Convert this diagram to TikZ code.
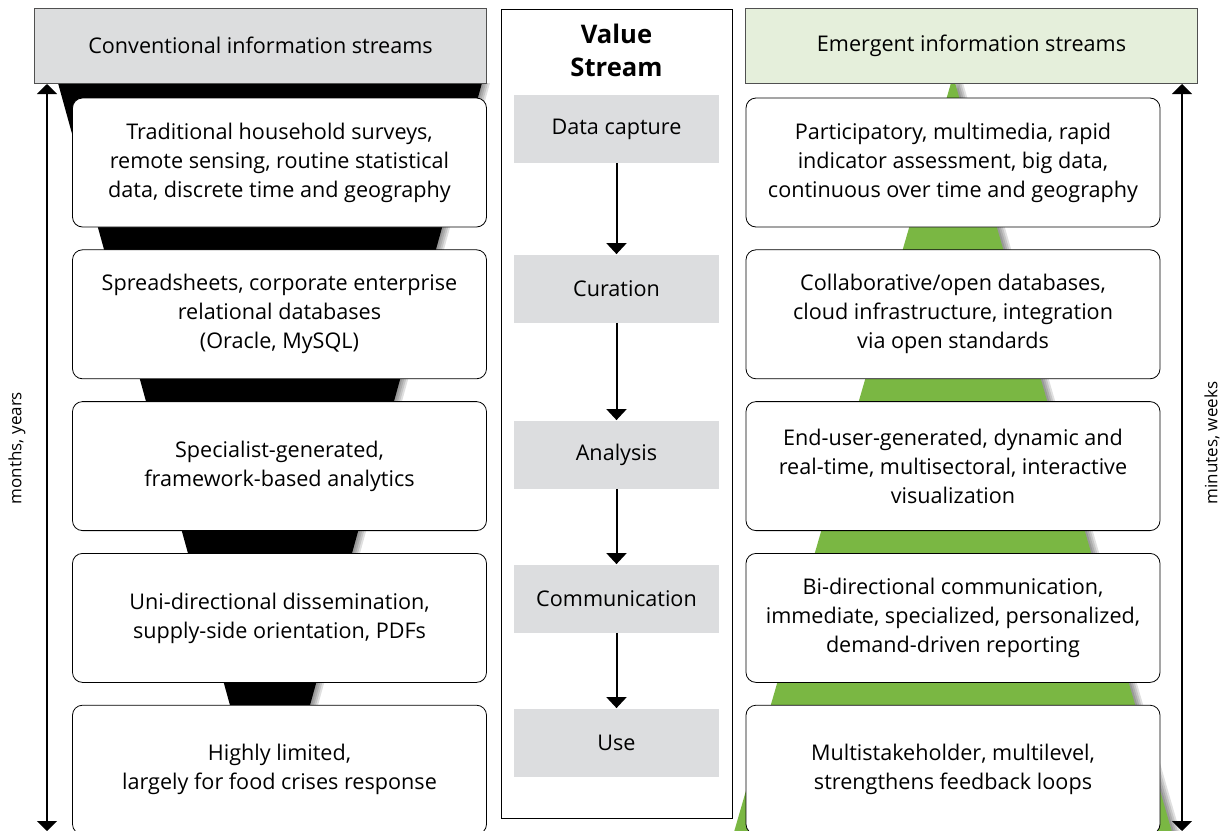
\documentclass[tikz,border=0pt]{standalone}
\usepackage{fontspec}
\setmainfont{Open Sans}
\usepackage{xcolor}
\usepackage{tikz}
\usetikzlibrary{arrows.meta, positioning}
\definecolor{headgray}{RGB}{220, 221, 222}
\definecolor{headgreen}{RGB}{229, 239, 219}
\definecolor{stagegray}{RGB}{220, 221, 223}
\definecolor{streamgreen}{RGB}{122, 183, 67}
\definecolor{edgegray}{RGB}{80, 80, 80}

\begin{document}
\begin{tikzpicture}[
    x=0.5pt, y=-0.5pt,
    node distance=11pt,
    head/.style={rectangle, draw=edgegray, minimum width=226pt, minimum height=37.5pt, font=\fontsize{10.8}{14}\selectfont},
    infobox/.style={rectangle, draw, fill=white, rounded corners=5pt, minimum width=207pt, minimum height=64.5pt, align=center, font=\fontsize{10.8}{14.5}\selectfont},
    stage/.style={rectangle, fill=stagegray, minimum width=102.5pt, minimum height=34pt, font=\fontsize{10.8}{14}\selectfont},
    arrow/.style={-{Triangle[width=10pt, length=5.5pt]}, line width=1pt},
    timeline/.style={{Triangle[width=10pt, length=5pt]}-{Triangle[width=10pt, length=5pt]}, line width=1pt},
    shade/.style={fill=black, opacity=0.12}
]
\useasboundingbox (0,0) rectangle (1226,830);

% soft shadows, then funnel and triangle behind the boxes
\foreach \s in {2,4,6,8} {
  \fill[shade, xshift=\s*0.5pt] (58,83) -- (482,83) -- (270,850) -- cycle;
  \fill[shade, xshift=\s*0.5pt] (953,76) -- (1183,870) -- (723,870) -- cycle;
}
\fill[black] (58,83) -- (482,83) -- (270,850) -- cycle;
\fill[streamgreen] (953,76) -- (1183,870) -- (723,870) -- cycle;

% headers
\node[head, fill=headgray] (conv) at (260.5,45.5) {Conventional information streams};
\node[head, fill=headgreen] (emerg) at (971.5,45.5) {Emergent information streams};

% conventional column
\node[infobox] (survey) at (279.5,162.5) {Traditional household surveys,\\remote sensing, routine statistical\\data, discrete time and geography};
\node[infobox, below=of survey] (sheets) {Spreadsheets, corporate enterprise\\relational databases\\(Oracle, MySQL)};
\node[infobox, below=of sheets] (specialist) {Specialist-generated,\\framework-based analytics};
\node[infobox, below=of specialist] (unidir) {Uni-directional dissemination,\\supply-side orientation, PDFs};
\node[infobox, below=of unidir] (limited) {Highly limited,\\largely for food crises response};

% emergent column
\node[infobox] (particip) at (953,162.5) {Participatory, multimedia, rapid\\indicator assessment, big data,\\continuous over time and geography};
\node[infobox, below=of particip] (collab) {Collaborative/open databases,\\cloud infrastructure, integration\\via open standards};
\node[infobox, below=of collab] (enduser) {End-user-generated, dynamic and\\real-time, multisectoral, interactive\\visualization};
\node[infobox, below=of enduser] (bidir) {Bi-directional communication,\\immediate, specialized, personalized,\\demand-driven reporting};
\node[infobox, below=of bidir] (multi) {Multistakeholder, multilevel,\\strengthens feedback loops};

% value stream
\node[draw, minimum width=115.5pt, minimum height=404.5pt] (valuecol) at (616.5,413.5) {};
\node[align=center, font=\fontsize{12.8}{16.5}\selectfont\bfseries] (valuetitle) at (616.5,50) {Value\\Stream};
\node[stage] (capture) at (616.5,129) {Data capture};
\node[stage] (curation) at (616.5,288.5) {Curation};
\node[stage] (analysis) at (616.5,454.5) {Analysis};
\node[stage] (communic) at (616.5,598.5) {Communication};
\node[stage] (use) at (616.5,742.5) {Use};

\draw[arrow] (capture) -- (curation);
\draw[arrow] (curation) -- (analysis);
\draw[arrow] (analysis) -- (communic);
\draw[arrow] (communic) -- (use);

% time scales
\coordinate (ltop) at (47,84);
\coordinate (lbot) at (47,831);
\coordinate (rtop) at (1182,84);
\coordinate (rbot) at (1182,831);
\draw[timeline] (ltop) -- (lbot);
\draw[timeline] (rtop) -- (rbot);
\node[rotate=90, font=\fontsize{8.5}{10}\selectfont] (slow) at (17,448) {months, years};
\node[rotate=90, font=\fontsize{8.5}{10}\selectfont] (fast) at (1212,443) {minutes, weeks};

\end{tikzpicture}
\end{document}
